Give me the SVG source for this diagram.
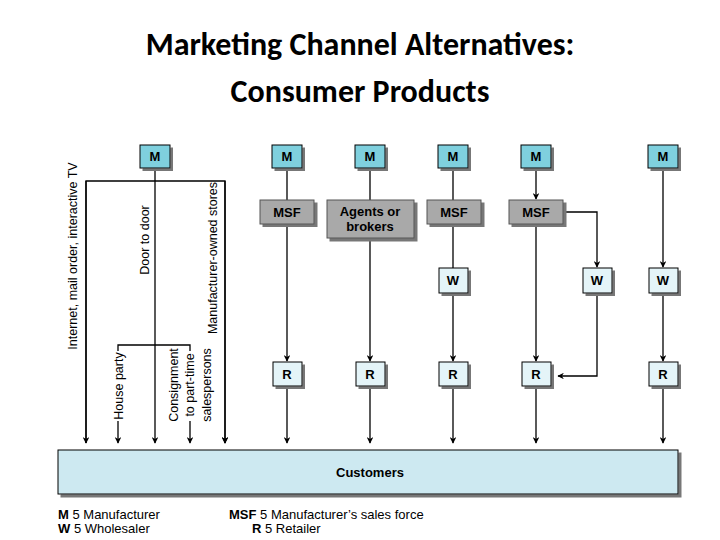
<svg xmlns="http://www.w3.org/2000/svg" width="720" height="540" viewBox="0 0 720 540">
<defs>
<marker id="ah" viewBox="0 0 10 10" refX="9" refY="5" markerWidth="5" markerHeight="5" orient="auto"><path d="M0,0 L10,5 L0,10 L3,5 z" fill="#000"/></marker>
<filter id="sh"><feDropShadow dx="3" dy="3" stdDeviation="0.5" flood-color="#777"/></filter>
</defs>
<style>
.t{font-family:"Liberation Sans",Arial,sans-serif}
.title{font-family:Calibri,"Liberation Sans",sans-serif;font-size:32px;font-weight:bold;text-anchor:middle}
.m{fill:#7fd0de;stroke:#000;stroke-width:1;filter:url(#sh)}
.g{fill:#a9a9a9;stroke:#555;stroke-width:1;filter:url(#sh)}
.w{fill:#e4f4f8;stroke:#000;stroke-width:1;filter:url(#sh)}
.lb{font-family:"Liberation Sans",Arial,sans-serif;font-weight:bold;font-size:13px;text-anchor:middle}
.rl{font-family:"Liberation Sans",Arial,sans-serif;font-size:12.5px}
.c line,.c path{stroke:#000;stroke-width:1.3;fill:none}
.a{marker-end:url(#ah)}
</style>
<rect width="720" height="540" fill="#fff"/>
<text class="title" x="360" y="55">Marketing Channel Alternatives:</text>
<text class="title" x="360" y="102">Consumer Products</text>
<g class="c">
<line x1="155" y1="168" x2="155" y2="443" class="a"/>
<path d="M86,443 V181 H225 V443" class="a"/>
<line x1="86" y1="181" x2="86" y2="443" class="a"/>
<line x1="225" y1="181" x2="225" y2="443" class="a"/>
<path d="M118,351 V345 H190 V351"/>
<line x1="118" y1="421" x2="118" y2="443" class="a"/>
<line x1="190" y1="421" x2="190" y2="443" class="a"/>
<line x1="287" y1="168" x2="287" y2="200"/>
<line x1="287" y1="224" x2="287" y2="361" class="a"/>
<line x1="287" y1="386" x2="287" y2="443" class="a"/>
<line x1="370" y1="168" x2="370" y2="200"/>
<line x1="370" y1="238" x2="370" y2="361" class="a"/>
<line x1="370" y1="386" x2="370" y2="443" class="a"/>
<line x1="453" y1="168" x2="453" y2="200"/>
<line x1="453" y1="224" x2="453" y2="268"/>
<line x1="453" y1="293" x2="453" y2="361" class="a"/>
<line x1="453" y1="386" x2="453" y2="443" class="a"/>
<line x1="536" y1="168" x2="536" y2="199" class="a"/>
<line x1="536" y1="224" x2="536" y2="361" class="a"/>
<line x1="536" y1="386" x2="536" y2="443" class="a"/>
<path d="M563,212 H597 V267" class="a"/>
<path d="M597,293 V376 H558" class="a"/>
<line x1="663" y1="168" x2="663" y2="267" class="a"/>
<line x1="663" y1="293" x2="663" y2="361" class="a"/>
<line x1="663" y1="386" x2="663" y2="443" class="a"/>
</g>
<g id="m1"><rect class="m" x="140" y="145" width="30" height="23"/><text class="lb" x="155" y="161">M</text></g>
<g id="m2"><rect class="m" x="272" y="145" width="30" height="23"/><text class="lb" x="287" y="161">M</text></g>
<g id="m3"><rect class="m" x="355" y="145" width="30" height="23"/><text class="lb" x="370" y="161">M</text></g>
<g id="m4"><rect class="m" x="438" y="145" width="30" height="23"/><text class="lb" x="453" y="161">M</text></g>
<g id="m5"><rect class="m" x="521" y="145" width="30" height="23"/><text class="lb" x="536" y="161">M</text></g>
<g id="m6"><rect class="m" x="648" y="145" width="30" height="23"/><text class="lb" x="663" y="161">M</text></g>
<g id="msf2"><rect class="g" x="260" y="200" width="54" height="24"/><text class="lb" x="287" y="217">MSF</text></g>
<g id="agents"><rect class="g" x="327" y="200" width="87" height="38"/><text class="lb" x="370" y="216">Agents or</text><text class="lb" x="370" y="231">brokers</text></g>
<g id="msf4"><rect class="g" x="427" y="200" width="54" height="24"/><text class="lb" x="454" y="217">MSF</text></g>
<g id="msf5"><rect class="g" x="509" y="200" width="54" height="24"/><text class="lb" x="536" y="217">MSF</text></g>
<g id="w4"><rect class="w" x="439" y="268" width="29" height="25"/><text class="lb" x="453" y="285">W</text></g>
<g id="w5"><rect class="w" x="583" y="268" width="29" height="25"/><text class="lb" x="597" y="285">W</text></g>
<g id="w6"><rect class="w" x="649" y="268" width="29" height="25"/><text class="lb" x="663" y="285">W</text></g>
<g id="r2"><rect class="w" x="273" y="362" width="29" height="24"/><text class="lb" x="287" y="379">R</text></g>
<g id="r3"><rect class="w" x="356" y="362" width="29" height="24"/><text class="lb" x="370" y="379">R</text></g>
<g id="r4"><rect class="w" x="439" y="362" width="29" height="24"/><text class="lb" x="453" y="379">R</text></g>
<g id="r5"><rect class="w" x="522" y="362" width="29" height="24"/><text class="lb" x="536" y="379">R</text></g>
<g id="r6"><rect class="w" x="649" y="362" width="29" height="24"/><text class="lb" x="663" y="379">R</text></g>
<g id="customers"><rect x="58" y="450" width="620" height="44" fill="#cde9f1" stroke="#000" filter="url(#sh)"/><text class="lb" x="370" y="477">Customers</text></g>
<g class="rl">
<text transform="translate(77,256) rotate(-90)" text-anchor="middle">Internet, mail order, interactive TV</text>
<text transform="translate(149,240) rotate(-90)" text-anchor="middle">Door to door</text>
<text transform="translate(217,258) rotate(-90)" text-anchor="middle">Manufacturer-owned stores</text>
<text transform="translate(123,386) rotate(-90)" text-anchor="middle">House party</text>
<text transform="translate(178,385) rotate(-90)" text-anchor="middle">Consignment</text>
<text transform="translate(194,385) rotate(-90)" text-anchor="middle">to part-time</text>
<text transform="translate(211,385) rotate(-90)" text-anchor="middle">salespersons</text>
</g>
<g class="t" font-size="13">
<text x="58" y="519"><tspan font-weight="bold">M</tspan> 5 Manufacturer</text>
<text x="58" y="533"><tspan font-weight="bold">W</tspan> 5 Wholesaler</text>
<text x="229" y="519"><tspan font-weight="bold">MSF</tspan> 5 Manufacturer’s sales force</text>
<text x="252" y="533"><tspan font-weight="bold">R</tspan> 5 Retailer</text>
</g>
</svg>
